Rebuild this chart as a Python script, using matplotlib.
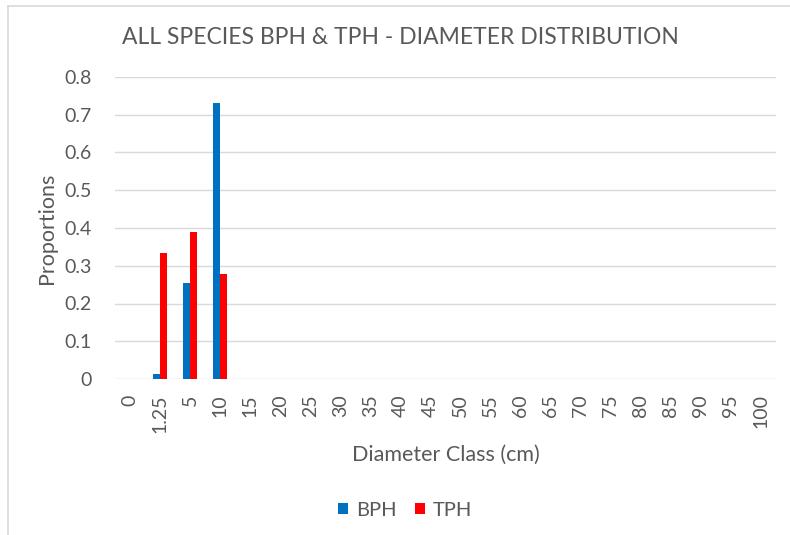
import numpy as np
import matplotlib
matplotlib.use('Agg')
import matplotlib.pyplot as plt
from matplotlib.lines import Line2D

plt.rcParams['font.family'] = ['Lato', 'DejaVu Sans']

# diameter classes (cm)
classes = ['0', '1.25'] + [str(d) for d in range(5, 105, 5)]
# proportions
bph = [0, 0.013, 0.255, 0.730] + [0] * 18
tph = [0, 0.333, 0.389, 0.277] + [0] * 18

blue = '#0070C0'
red = '#FF0000'
grey = '#595959'

fig = plt.figure(figsize=(7.9, 5.35), dpi=100)
ax = fig.add_axes([115 / 790, 1 - 379 / 535, 661 / 790, 302 / 535])

x = np.arange(len(classes))
w = 0.23
ax.bar(x - w / 2, bph, w, color=blue, label='BPH', zorder=3)
ax.bar(x + w / 2, tph, w, color=red, label='TPH', zorder=3)

ax.set_xlim(-0.5, len(classes) - 0.5)
ax.set_ylim(0, 0.8)
ax.set_yticks(np.arange(0, 0.81, 0.1))
ax.set_yticklabels(['0'] + [f'{v:.1f}' for v in np.arange(0.1, 0.81, 0.1)])
ax.set_xticks(x)
ax.set_xticklabels(classes, rotation=90)
ax.grid(axis='y', color='#d9d9d9', linewidth=1, zorder=0)
for s in ax.spines.values():
    s.set_visible(False)
ax.tick_params(axis='y', length=0, labelsize=14, colors=grey, pad=17)
ax.tick_params(axis='x', length=0, labelsize=14, colors=grey, pad=11)

ax.set_ylabel('Proportions', fontsize=15.5, color=grey, labelpad=5)
ax.set_xlabel('Diameter Class (cm)', fontsize=15.5, color=grey, labelpad=9)
fig.text(400 / 790, 1 - 38 / 535, 'ALL SPECIES BPH & TPH - DIAMETER DISTRIBUTION',
         ha='center', va='center', fontsize=16.5, color=grey)

leg = fig.legend(loc='center', bbox_to_anchor=(405 / 790, 1 - 510 / 535), ncol=2,
                 frameon=False, fontsize=14.5, handlelength=0.5, handleheight=0.5,
                 handletextpad=0.4, columnspacing=0.9)
for t in leg.get_texts():
    t.set_color(grey)

# chart border (left and top visible)
fig.add_artist(Line2D([8 / 790, 8 / 790], [0, 1 - 6 / 535], color='#d9d9d9', lw=1.2))
fig.add_artist(Line2D([8 / 790, 1], [1 - 6 / 535, 1 - 6 / 535], color='#d9d9d9', lw=1.2))

fig.savefig('out.png', dpi=100)
